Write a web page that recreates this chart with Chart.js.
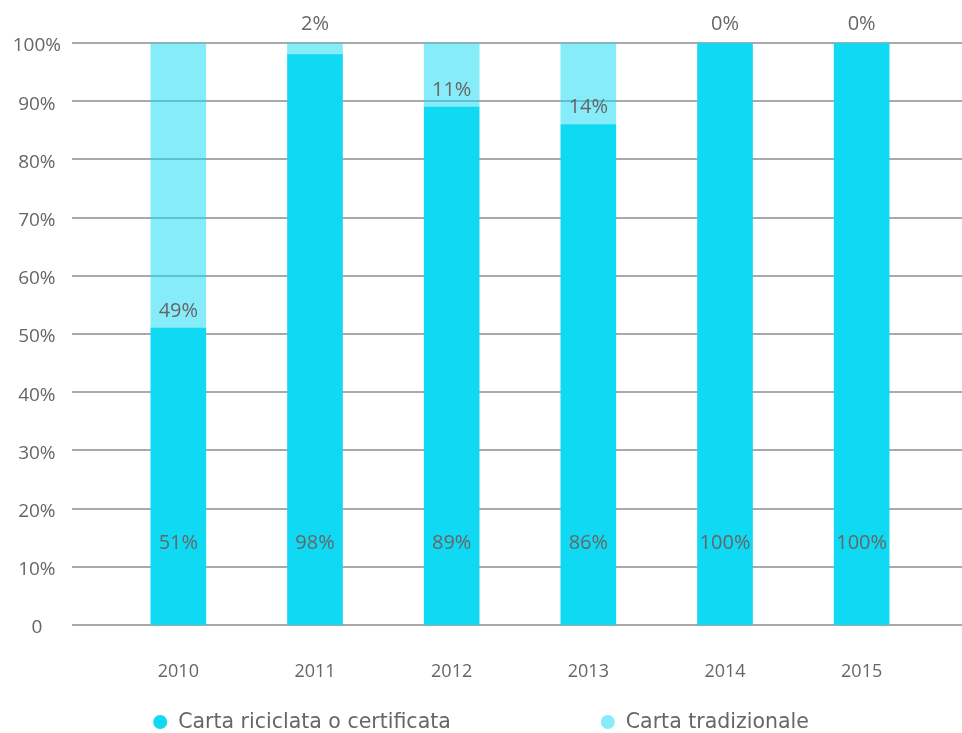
<!DOCTYPE html>
<html>
<head>
<meta charset="utf-8">
<script src="https://cdn.jsdelivr.net/npm/chart.js@4"></script>
<style>
  html, body { margin: 0; padding: 0; background: #fff; }
  #wrap { width: 962px; height: 733px; }
</style>
</head>
<body>
<div id="wrap"><canvas id="paper-chart"></canvas></div>
<script>
const years = ['2010', '2011', '2012', '2013', '2014', '2015'];
const riciclata = [51, 98, 89, 86, 100, 100];
const tradizionale = [49, 2, 11, 14, 0, 0];
const seriesNames = ['Carta riciclata o certificata', 'Carta tradizionale'];

const textColor = '#666666';
const fontFamily = '"Open Sans", sans-serif';
const legendFont = '"DejaVu Sans", sans-serif';

// gridlines run wider than the bars' plot area
const gridPlugin = {
  id: 'wideGrid',
  beforeDatasetsDraw(chart) {
    const { ctx, chartArea, scales: { y } } = chart;
    ctx.save();
    ctx.strokeStyle = '#aaaaaa';
    ctx.lineWidth = 2;
    y.ticks.forEach(t => {
      const py = Math.round(y.getPixelForValue(t.value));
      ctx.beginPath();
      ctx.moveTo(chartArea.left - 38, py);
      ctx.lineTo(chart.width, py);
      ctx.stroke();
    });
    ctx.restore();
  }
};

const labelPlugin = {
  id: 'barLabels',
  afterDatasetsDraw(chart) {
    const { ctx, scales: { y } } = chart;
    ctx.save();
    ctx.fillStyle = textColor;
    ctx.font = '20px ' + fontFamily;
    ctx.textAlign = 'center';
    ctx.textBaseline = 'middle';
    const low = chart.getDatasetMeta(0).data;
    const high = chart.getDatasetMeta(1).data;
    riciclata.forEach((v, i) => {
      ctx.fillText(v + '%', low[i].x, y.getPixelForValue(14));
    });
    tradizionale.forEach((v, i) => {
      const py = v >= 5 ? low[i].y - 17 : y.getPixelForValue(riciclata[i] + v) - 19;
      ctx.fillText(v + '%', high[i].x, py);
    });
    ctx.restore();
  }
};

const legendPlugin = {
  id: 'bottomLegend',
  afterDraw(chart) {
    const { ctx } = chart;
    ctx.save();
    ctx.font = '20.5px ' + legendFont;
    ctx.textBaseline = 'middle';
    const gap = 150;
    const widths = chart.data.datasets.map(ds => 25 + ctx.measureText(ds.label).width);
    let x = (chart.width - widths.reduce((a, b) => a + b, 0) - gap) / 2;
    const py = 722;
    chart.data.datasets.forEach((ds, i) => {
      ctx.fillStyle = ds.backgroundColor;
      ctx.beginPath();
      ctx.arc(x + 7, py, 7, 0, Math.PI * 2);
      ctx.fill();
      ctx.fillStyle = textColor;
      ctx.fillText(ds.label, x + 25, py + 1);
      x += widths[i] + gap;
    });
    ctx.restore();
  }
};

new Chart(document.getElementById('paper-chart'), {
  type: 'bar',
  data: {
    labels: years,
    datasets: [
      {
        label: seriesNames[0],
        data: riciclata,
        backgroundColor: 'rgb(16, 217, 243)',
        barThickness: 55
      },
      {
        label: seriesNames[1],
        data: tradizionale,
        backgroundColor: 'rgba(16, 217, 243, 0.5)',
        barThickness: 55
      }
    ]
  },
  options: {
    responsive: true,
    maintainAspectRatio: false,
    animation: false,
    layout: { padding: { top: 43, right: 32, left: 0, bottom: 0 } },
    plugins: {
      legend: { display: false },
      tooltip: { enabled: false }
    },
    scales: {
      x: {
        stacked: true,
        grid: { display: false, drawTicks: false },
        border: { display: false },
        ticks: {
          color: textColor,
          font: { family: fontFamily, size: 18 },
          padding: 36
        },
        afterFit(scale) { scale.height = 108; }
      },
      y: {
        stacked: true,
        min: 0,
        max: 100,
        // tick marks are hidden with the grid; their length only sets the label gap
        grid: { display: false, drawTicks: true, tickLength: 49 },
        border: { display: false },
        ticks: {
          stepSize: 10,
          color: textColor,
          font: { family: fontFamily, size: 19 },
          crossAlign: 'center',
          padding: 0,
          labelOffset: 3,
          callback: v => (v === 0 ? '0' : v + '%')
        },
        afterFit(scale) { scale.width = 110; }
      }
    }
  },
  plugins: [gridPlugin, labelPlugin, legendPlugin]
});
</script>
</body>
</html>
